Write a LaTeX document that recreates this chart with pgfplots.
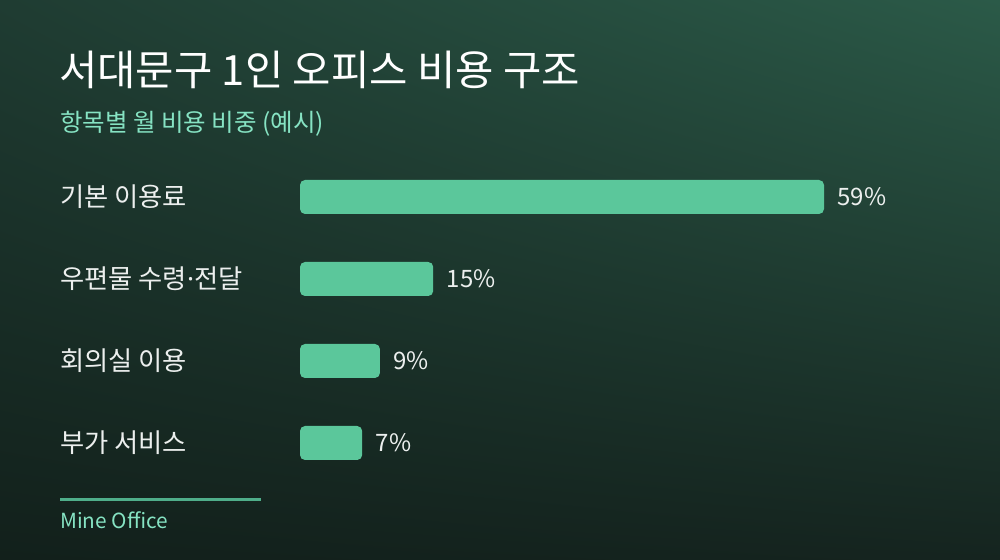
\documentclass[border=0pt]{standalone}
\usepackage{fontspec}
\setmainfont{Noto Sans CJK KR}
\newfontfamily\latinf{Noto Sans}
\usepackage{pgfplots}
\pgfplotsset{compat=1.18}
\usetikzlibrary{shadings}
\definecolor{bgUL}{HTML}{1F3C32}
\definecolor{bgUR}{HTML}{2B5A48}
\definecolor{bgLL}{HTML}{12201B}
\definecolor{bgLR}{HTML}{15241F}
\definecolor{barc}{HTML}{5BC79B}
\definecolor{mint}{HTML}{86E3C3}
\definecolor{linec}{HTML}{4FAE8A}
\definecolor{labc}{HTML}{ECEFEE}
\begin{document}
\begin{tikzpicture}[x=1bp,y=1bp]
\shade[upper left=bgUL, upper right=bgUR, lower left=bgLL, lower right=bgLR] (0,0) rectangle (1000,560);
\node[anchor=base west, inner sep=0pt, text=white, font=\fontsize{41.7bp}{44bp}\selectfont] at (59,474) {서대문구 1인 오피스 비용 구조};
\node[anchor=base west, inner sep=0pt, text=mint, font=\fontsize{24.5bp}{27bp}\selectfont] at (60,428) {항목별 월 비용 비중 (예시)};
\draw[linec, line width=3bp] (60,60) -- (261,60);
\node[anchor=base west, inner sep=0pt, text=mint, font=\fontsize{20.8bp}{23bp}\selectfont] at (60,31) {Mine Office};
\begin{axis}[
  at={(300bp,76bp)}, anchor=south west,
  scale only axis, width=524bp, height=328bp,
  xmin=0, xmax=59, ymin=-0.5, ymax=3.5, y dir=reverse,
  axis line style={draw=none}, xtick=\empty,
  ytick={0,1,2,3}, major tick length=0pt,
  yticklabels={기본 이용료,우편물 수령{\latinf·}전달,회의실 이용,부가 서비스},
  yticklabel style={anchor=west, inner sep=0pt, xshift=-240bp, text=labc, font=\fontsize{26.3bp}{29bp}\selectfont},
  xbar, bar width=34bp, bar shift=0pt,
  clip=false,
  /pgf/number format/assume math mode=true,
  nodes near coords={\pgfmathprintnumber{\pgfplotspointmeta}\%},
  nodes near coords style={anchor=west, xshift=10bp, text=labc, font=\fontsize{24bp}{27bp}\selectfont},
  point meta=x,
]
\addplot[fill=barc, draw=none, rounded corners=5bp] coordinates {(59,0) (15,1) (9,2) (7,3)};
\end{axis}
\end{tikzpicture}
\end{document}
